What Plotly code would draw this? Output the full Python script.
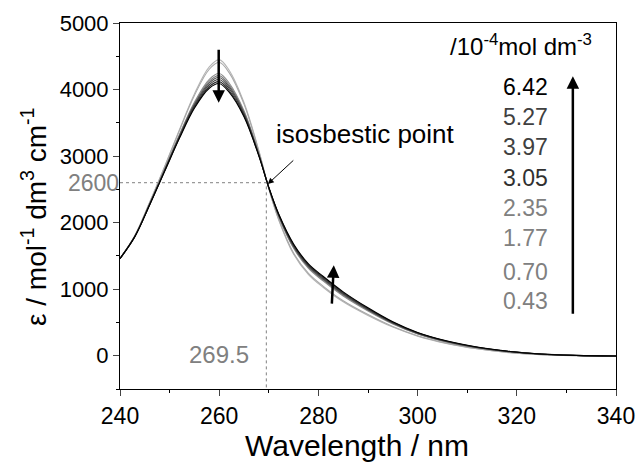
import plotly.graph_objects as go

wavelength = [240, 243, 246, 249, 252, 255, 258, 260, 262, 265, 268, 270, 272,
              275, 278, 281, 285, 290, 295, 300, 306, 312, 318, 325, 332, 340]

concentrations = ["0.43", "0.70", "1.77", "2.35", "3.05", "3.97", "5.27", "6.42"]

eps_043 = [1460, 1808, 2310, 2845, 3400, 3935, 4340, 4450, 4290, 3805, 3080, 2510, 2040,
           1525, 1220, 1025, 810, 605, 430, 295, 182, 104, 50, 15, 1, -7]
eps_070 = [1460, 1806, 2306, 2837, 3386, 3911, 4305, 4410, 4254, 3781, 3071, 2512, 2050,
           1542, 1238, 1043, 826, 618, 439, 301, 186, 107, 52, 16, 1, -7]
eps_177 = [1460, 1798, 2287, 2802, 3325, 3810, 4154, 4241, 4099, 3680, 3034, 2522, 2092,
           1615, 1313, 1121, 897, 672, 476, 327, 204, 119, 62, 21, 3, -6]
eps_235 = [1460, 1796, 2283, 2795, 3313, 3791, 4126, 4209, 4069, 3661, 3026, 2523, 2100,
           1629, 1327, 1136, 910, 682, 484, 332, 207, 121, 63, 22, 4, -6]
eps_305 = [1460, 1795, 2280, 2789, 3303, 3774, 4100, 4180, 4043, 3644, 3020, 2525, 2107,
           1641, 1340, 1149, 922, 691, 490, 336, 210, 123, 65, 22, 4, -6]
eps_397 = [1460, 1793, 2277, 2783, 3292, 3757, 4074, 4151, 4016, 3627, 3014, 2527, 2115,
           1654, 1353, 1162, 934, 700, 496, 341, 214, 126, 67, 23, 4, -5]
eps_527 = [1460, 1791, 2273, 2776, 3280, 3737, 4046, 4119, 3986, 3607, 3006, 2528, 2123,
           1668, 1367, 1177, 948, 711, 504, 346, 217, 128, 68, 24, 5, -5]
eps_642 = [1460, 1790, 2270, 2770, 3270, 3720, 4020, 4090, 3960, 3590, 3000, 2530, 2130,
           1680, 1380, 1190, 960, 720, 510, 350, 220, 130, 70, 25, 5, -5]

series = [eps_043, eps_070, eps_177, eps_235, eps_305, eps_397, eps_527, eps_642]
line_colors = ["#b4b4b4", "#a8a8a8", "#8c8c8c", "#7a7a7a", "#505050", "#3c3c3c", "#282828", "#000000"]
label_colors = ["#808080", "#808080", "#808080", "#808080", "#303030", "#404040", "#404040", "#000000"]

iso_x = 269.5
iso_y = 2600
x_ticks = [240, 260, 280, 300, 320, 340]
y_ticks = [0, 1000, 2000, 3000, 4000, 5000]

FONT = "Arial, Liberation Sans, sans-serif"

fig = go.Figure()

for name, ys, col in zip(concentrations, series, line_colors):
    fig.add_trace(go.Scatter(x=wavelength, y=ys, mode="lines", name=name,
                             line=dict(color=col, width=1.1, shape="spline", smoothing=1.0),
                             showlegend=False, hoverinfo="skip"))

# isosbestic guide lines
fig.add_trace(go.Scatter(x=[240, iso_x, iso_x], y=[iso_y, iso_y, -500], mode="lines",
                         line=dict(color="#808080", width=1, dash="3px,3px"),
                         showlegend=False, hoverinfo="skip"))

annotations = []
# isosbestic text and arrow
annotations.append(dict(x=271.0, y=3330, xref="x", yref="y", text="isosbestic point",
                        showarrow=False, xanchor="left", yanchor="middle",
                        font=dict(family=FONT, size=26, color="#000000")))
annotations.append(dict(x=iso_x + 0.3, y=iso_y - 20, xref="x", yref="y", ax=27, ay=-25,
                        axref="pixel", ayref="pixel", text="", showarrow=True,
                        arrowhead=2, arrowsize=1.2, arrowwidth=1, arrowcolor="#000000"))
# gray value labels
annotations.append(dict(x=0, y=iso_y, xref="paper", yref="y", text="2600", showarrow=False,
                        xanchor="right", yanchor="middle", xshift=1,
                        font=dict(family=FONT, size=23, color="#808080")))
annotations.append(dict(x=260.0, y=20, xref="x", yref="y", text="269.5", showarrow=False,
                        xanchor="center", yanchor="middle",
                        font=dict(family=FONT, size=24, color="#808080")))
# peak down arrow
annotations.append(dict(x=259.9, y=3800, xref="x", yref="y", ax=259.9, ay=4620,
                        axref="x", ayref="y", text="", showarrow=True,
                        arrowhead=2, arrowsize=1.0, arrowwidth=2.5, arrowcolor="#000000"))
# tail up arrow
annotations.append(dict(x=283.1, y=1360, xref="x", yref="y", ax=282.7, ay=760,
                        axref="x", ayref="y", text="", showarrow=True,
                        arrowhead=2, arrowsize=1.0, arrowwidth=2.5, arrowcolor="#000000"))
# legend title
annotations.append(dict(x=0.955, y=4670, xref="x domain", yref="y",
                        text="/10<sup>-4</sup>mol dm<sup>-3</sup>", showarrow=False,
                        xanchor="right", yanchor="middle",
                        font=dict(family=FONT, size=24, color="#000000")))
# concentration labels (top = highest)
label_y = [4040, 3590, 3140, 2670, 2220, 1770, 1265, 815]
for txt, yy, col in zip(concentrations[::-1], label_y, label_colors[::-1]):
    annotations.append(dict(x=0.867, y=yy, xref="x domain", yref="y", text=txt, showarrow=False,
                            xanchor="right", yanchor="middle",
                            font=dict(family=FONT, size=23, color=col)))
# long up arrow
annotations.append(dict(x=0.913, y=4200, xref="x domain", yref="y", ax=0.913, ay=610,
                        axref="x domain", ayref="y", text="", showarrow=True,
                        arrowhead=2, arrowsize=1.0, arrowwidth=2.5, arrowcolor="#000000"))
# axis titles
annotations.append(dict(x=0.5, y=0, xref="paper", yref="paper", text="Wavelength / nm",
                        showarrow=False, xanchor="center", yanchor="middle", yshift=-56, xshift=-11,
                        font=dict(family=FONT, size=30, color="#000000")))
annotations.append(dict(x=0, y=0.47, xref="paper", yref="paper",
                        text="ε / mol<sup>-1</sup> dm<sup>3</sup> cm<sup>-1</sup>",
                        showarrow=False, xanchor="center", yanchor="middle", xshift=-86,
                        textangle=-90, font=dict(family=FONT, size=28, color="#000000")))

fig.update_layout(
    width=638, height=464,
    margin=dict(l=120, r=22, t=23, b=75, autoexpand=False),
    plot_bgcolor="white", paper_bgcolor="white",
    font=dict(family=FONT, size=22, color="#000000"),
    annotations=annotations,
    showlegend=False,
)
fig.update_xaxes(range=[240, 340], tickvals=x_ticks, ticks="outside", ticklen=6, tickwidth=1,
                 showline=True, linecolor="black", linewidth=1, mirror=True, showgrid=False,
                 zeroline=False, automargin=False, ticklabeloverflow="allow",
                 tickfont=dict(family=FONT, size=23, color="black"),
                 minor=dict(dtick=10, ticks="outside", ticklen=3, tickcolor="black", showgrid=False))
fig.update_yaxes(range=[-500, 5000], tickvals=y_ticks, ticks="outside", ticklen=6, tickwidth=1,
                 showline=True, linecolor="black", linewidth=1, mirror=True, showgrid=False,
                 zeroline=False, automargin=False, tickfont=dict(family=FONT, size=22, color="black"),
                 minor=dict(dtick=500, ticks="outside", ticklen=3, tickcolor="black", showgrid=False))

# remove the default page margin so the 638x464 figure fills the window exactly
fig.write_html("out.html", config={"displayModeBar": False, "staticPlot": True},
               post_script="document.body.style.margin='0';")
